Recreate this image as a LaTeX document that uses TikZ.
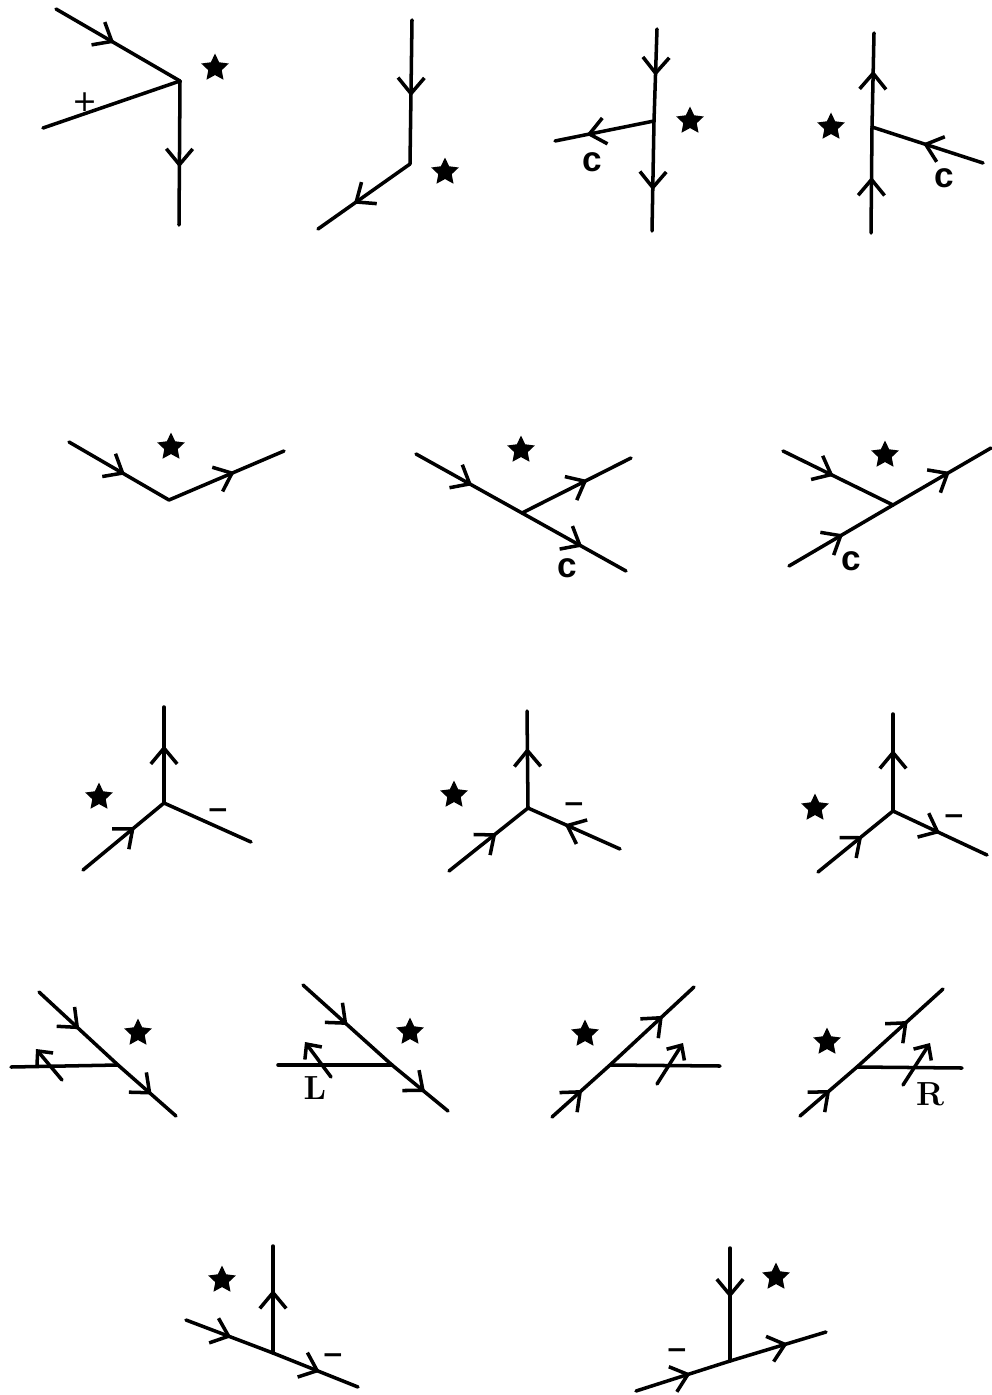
\documentclass[tikz,border=0pt]{standalone}
\usepackage{fontspec}
\newfontfamily\signfont{DejaVu Sans}
\newfontfamily\letterfont{Liberation Sans}
\usetikzlibrary{arrows.meta, decorations.markings, shapes.geometric}

\begin{document}
\begin{tikzpicture}[
    x=0.02cm, y=-0.02cm,
    line/.style={line width=2pt, line cap=round},
    arr/.style={line, postaction={decorate}, decoration={markings,
        mark=at position #1 with {\arrow{Straight Barb[length=9pt, width=15pt, line width=2pt]}}}},
    cross/.style={line, -{Straight Barb[length=6.5pt, width=12pt]}},
    starmark/.style={star, star points=5, star point ratio=2.05, fill=black, inner sep=0pt, minimum size=0.58cm},
    lab/.style={inner sep=0pt, font=\letterfont\fontsize{20}{20}\selectfont\bfseries},
    caplab/.style={inner sep=0pt, font=\fontsize{19}{19}\selectfont\bfseries},
    plussign/.style={inner sep=0pt, font=\signfont\fontsize{17}{17}\selectfont},
    sign/.style={inner sep=0pt, font=\signfont\fontsize{15}{15}\selectfont\bfseries}
]

\useasboundingbox (0,0) rectangle (991,1395);

% first row
\coordinate (v1) at (180,81);
\coordinate (a1) at (56,9);
\coordinate (b1) at (43,128);
\coordinate (c1) at (179,225);
\draw[arr=0.47] (a1) -- (v1);
\draw[line] (b1) -- (v1);
\draw[arr=0.6] (v1) -- (c1);
\node[plussign] (p1) at (85,102) {+};
\node[starmark] (s1) at (215,68) {};

\coordinate (v2) at (410,164);
\coordinate (a2) at (412,20);
\coordinate (c2) at (318,229);
\draw[arr=0.53] (a2) -- (v2);
\draw[arr=0.61] (v2) -- (c2);
\node[starmark] (s2) at (445,172) {};

\coordinate (v3) at (654,121);
\coordinate (a3) at (657,29);
\coordinate (b3) at (555,141);
\coordinate (c3) at (652,231);
\draw[arr=0.51] (a3) -- (v3);
\draw[arr=0.68] (v3) -- (b3);
\draw[arr=0.63] (v3) -- (c3);
\node[lab] (l3) at (592,162) {c};
\node[starmark] (s3) at (690,121) {};

\coordinate (v4) at (872,127);
\coordinate (a4) at (874,33);
\coordinate (b4) at (983,163);
\coordinate (c4) at (871,233);
\draw[arr=0.6] (v4) -- (a4);
\draw[arr=0.54] (b4) -- (v4);
\draw[arr=0.53] (c4) -- (v4);
\node[lab] (l4) at (944,178) {c};
\node[starmark] (s4) at (831,127) {};

% second row
\coordinate (v5) at (169,500);
\coordinate (a5) at (69,442);
\coordinate (c5) at (284,451);
\draw[arr=0.56] (a5) -- (v5);
\draw[arr=0.57] (v5) -- (c5);
\node[starmark] (s5) at (171,447) {};

\coordinate (v6) at (522,513);
\coordinate (a6) at (416,454);
\coordinate (b6) at (631,458);
\coordinate (c6) at (626,571);
\draw[arr=0.53] (a6) -- (v6);
\draw[arr=0.6] (v6) -- (b6);
\draw[arr=0.58] (v6) -- (c6);
\node[lab] (l6) at (567,568) {c};
\node[starmark] (s6) at (521,450) {};

\coordinate (v7) at (893,505);
\coordinate (a7) at (783,451);
\coordinate (b7) at (789,566);
\coordinate (c7) at (991,448);
\draw[arr=0.46] (a7) -- (v7);
\draw[arr=0.52] (b7) -- (v7);
\draw[arr=0.58] (v7) -- (c7);
\node[lab] (l7) at (851,561) {c};
\node[starmark] (s7) at (885,455) {};

% third row
\coordinate (v8) at (164,803);
\coordinate (a8) at (164,707);
\coordinate (b8) at (83,870);
\coordinate (c8) at (251,842);
\draw[arr=0.6] (v8) -- (a8);
\draw[arr=0.64] (b8) -- (v8);
\draw[line] (v8) -- (c8);
\node[sign] (m8) at (218,814) {−};
\node[starmark] (s8) at (99,797) {};

\coordinate (v9) at (528,808);
\coordinate (a9) at (527,711);
\coordinate (b9) at (449,871);
\coordinate (c9) at (620,849);
\draw[arr=0.62] (v9) -- (a9);
\draw[arr=0.6] (b9) -- (v9);
\draw[arr=0.6] (c9) -- (v9);
\node[sign] (m9) at (574,808) {−};
\node[starmark] (s9) at (454,795) {};

\coordinate (v10) at (893,811);
\coordinate (a10) at (893,714);
\coordinate (b10) at (818,872);
\coordinate (c10) at (987,855);
\draw[arr=0.63] (v10) -- (a10);
\draw[arr=0.59] (b10) -- (v10);
\draw[arr=0.5] (v10) -- (c10);
\node[sign] (m10) at (954,820) {−};
\node[starmark] (s10) at (815,808) {};

% fourth row
\coordinate (v11) at (118,1065);
\coordinate (a11) at (39,992);
\coordinate (b11) at (11,1067);
\coordinate (c11) at (176,1116);
\coordinate (d11) at (62,1080);
\coordinate (e11) at (36,1049);
\draw[arr=0.51] (a11) -- (v11);
\draw[line] (b11) -- (v11);
\draw[arr=0.58] (v11) -- (c11);
\draw[cross] (d11) -- (e11);
\node[starmark] (s11) at (138,1033) {};

\coordinate (v12) at (392,1065);
\coordinate (a12) at (303,985);
\coordinate (b12) at (278,1065);
\coordinate (c12) at (448,1111);
\coordinate (d12) at (331,1077);
\coordinate (e12) at (305,1042);
\draw[arr=0.5] (a12) -- (v12);
\draw[line] (b12) -- (v12);
\draw[arr=0.59] (v12) -- (c12);
\draw[cross] (d12) -- (e12);
\node[caplab] (l12) at (315,1088) {L};
\node[starmark] (s12) at (410,1032) {};

\coordinate (v13) at (610,1065);
\coordinate (a13) at (552,1117);
\coordinate (b13) at (720,1066);
\coordinate (c13) at (694,987);
\coordinate (d13) at (657,1084);
\coordinate (e13) at (683,1043);
\draw[arr=0.52] (a13) -- (v13);
\draw[line] (v13) -- (b13);
\draw[arr=0.63] (v13) -- (c13);
\draw[cross] (d13) -- (e13);
\node[starmark] (s13) at (585,1034) {};

\coordinate (v14) at (857,1067);
\coordinate (a14) at (800,1116);
\coordinate (b14) at (962,1068);
\coordinate (c14) at (943,989);
\coordinate (d14) at (903,1085);
\coordinate (e14) at (930,1043);
\draw[arr=0.53] (a14) -- (v14);
\draw[line] (v14) -- (b14);
\draw[arr=0.59] (v14) -- (c14);
\draw[cross] (d14) -- (e14);
\node[caplab] (l14) at (930,1094) {R};
\node[starmark] (s14) at (827,1042) {};

% fifth row
\coordinate (v15) at (273,1353);
\coordinate (a15) at (273,1246);
\coordinate (b15) at (186,1320);
\coordinate (c15) at (358,1387);
\draw[arr=0.59] (v15) -- (a15);
\draw[arr=0.52] (b15) -- (v15);
\draw[arr=0.55] (v15) -- (c15);
\node[sign] (m15) at (333,1359) {−};
\node[starmark] (s15) at (222,1280) {};

\coordinate (v16) at (730,1361);
\coordinate (a16) at (730,1248);
\coordinate (b16) at (636,1391);
\coordinate (c16) at (826,1332);
\draw[arr=0.44] (a16) -- (v16);
\draw[arr=0.58] (b16) -- (v16);
\draw[arr=0.6] (v16) -- (c16);
\node[sign] (m16) at (677,1354) {−};
\node[starmark] (s16) at (776,1277) {};

\end{tikzpicture}
\end{document}
